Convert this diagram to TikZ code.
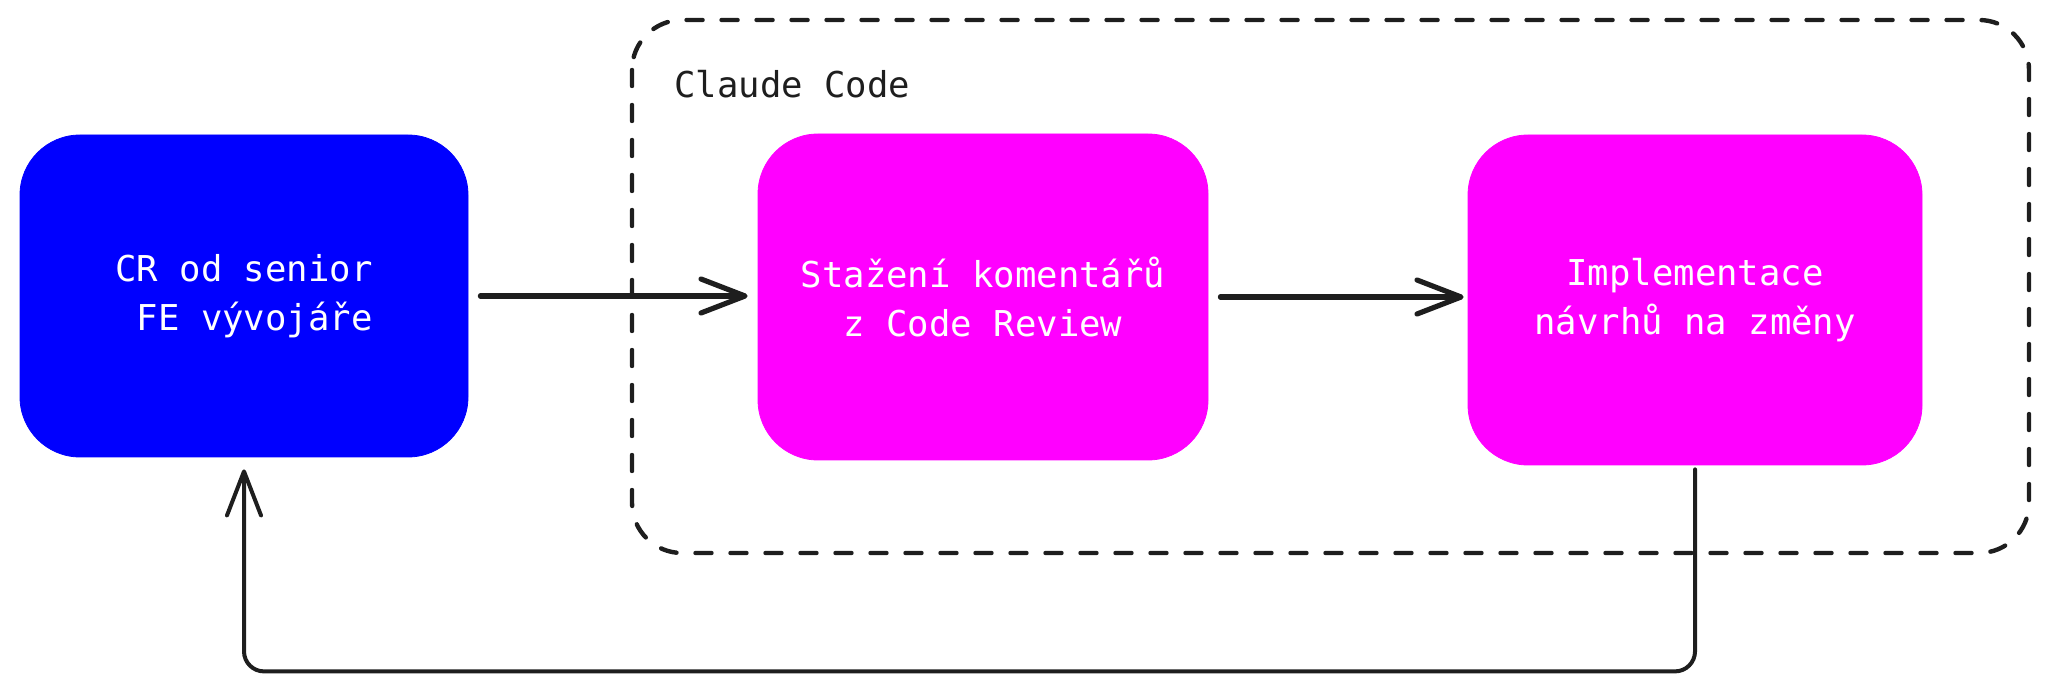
\documentclass[tikz,border=0pt]{standalone}
\usepackage{fontspec}
\setmonofont{DejaVu Sans Mono}
\usepackage{xcolor}
\usepackage{tikz}
\usetikzlibrary{arrows.meta}

\definecolor{inkdark}{HTML}{1E1E1E}
\definecolor{crblue}{HTML}{0000FF}
\definecolor{ccmagenta}{HTML}{FF00FF}

\begin{document}
\begin{tikzpicture}[x=0.5pt,y=-0.5pt,
    boxtext/.style={text=white,font=\ttfamily\fontsize{17.8}{24.4}\selectfont,align=center},
    crbox/.style={boxtext,fill=crblue,draw=crblue,rounded corners=30pt,minimum width=224pt,minimum height=161pt},
    ccbox/.style={boxtext,fill=ccmagenta,draw=ccmagenta,rounded corners=30pt,minimum width=225pt,minimum height=163pt},
    flow/.style={draw=inkdark,line width=2.6pt,line cap=round,-{Straight Barb[length=22pt,width=17pt,round]}},
    back/.style={draw=inkdark,line width=2pt,line cap=round,rounded corners=10pt,-{Straight Barb[length=22pt,width=17pt,round]}}]
    \useasboundingbox (0,0) rectangle (2048,694);
    % skupina Claude Code
    \draw[inkdark,line width=2.2pt,line cap=round,dash pattern=on 8pt off 9.5pt,rounded corners=25pt] (632,20) rectangle (2029,553);
    \node[anchor=base west,inner sep=0pt,text=inkdark,font=\ttfamily\fontsize{17.8}{24.4}\selectfont] (cclabel) at (674,98) {Claude Code};
    % kroky
    \node[crbox] (cr) at (244,296) {CR od senior\\\hphantom{x}FE vývojáře};
    \node[ccbox] (stazeni) at (983,297) {Stažení komentářů\\z Code Review};
    \node[ccbox,minimum width=227pt,minimum height=165pt] (impl) at (1695,300) {Implementace\\návrhů na změny};
    % sipky
    \draw[flow,shorten <=6pt,shorten >=5pt] (cr.east) -- (stazeni.west|-cr.east);
    \draw[flow,shorten <=6pt,shorten >=2pt] (stazeni.east) -- (impl.west|-stazeni.east);
    \draw[back,shorten <=2pt,shorten >=6pt] (impl.south) -- ++(0,206) -| (cr.south);
\end{tikzpicture}
\end{document}
